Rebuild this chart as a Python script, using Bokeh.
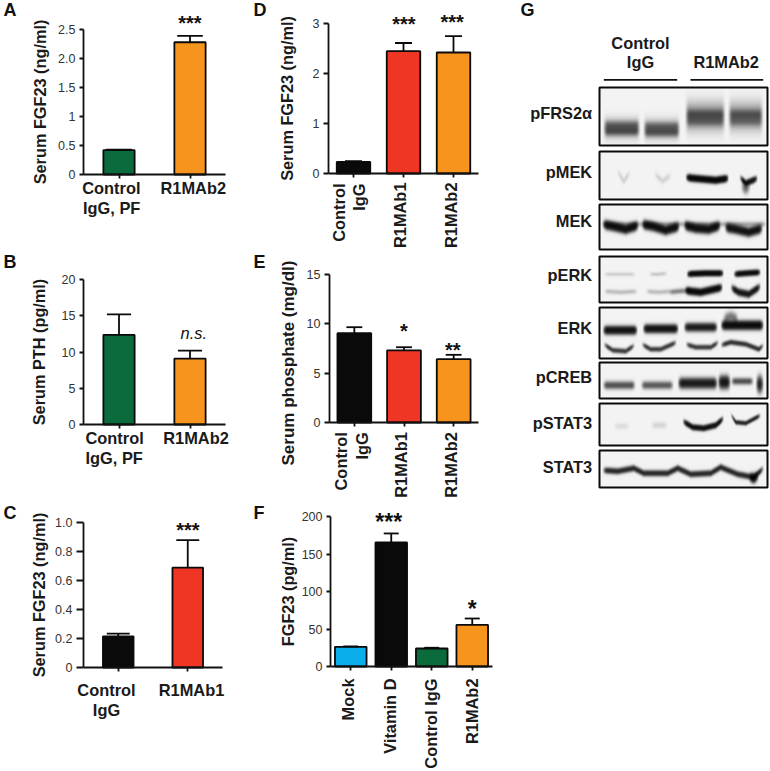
import math
import numpy as np
from bokeh.embed import file_html
from bokeh.resources import INLINE
from bokeh.plotting import figure
from bokeh.layouts import row, column
from bokeh.models import Label, Range1d, FixedTicker, LinearColorMapper

# ---- data ----
GREEN, ORANGE, RED, BLACK, BLUE = "#0b6b3c", "#f7941e", "#ef3524", "#0a0a0a", "#0aaeea"

a_mean = [0.42, 2.28]
a_upper = [0.43, 2.39]
a_colors = [GREEN, ORANGE]
a_ticks = {0: "0", 0.5: "0.5", 1: "1", 1.5: "1.5", 2: "2.0", 2.5: "2.5"}

b_mean = [12.35, 9.1]
b_upper = [15.2, 10.2]
b_colors = [GREEN, ORANGE]
b_ticks = {0: "0", 5: "5", 10: "10", 15: "15", 20: "20"}

c_mean = [0.215, 0.689]
c_upper = [0.233, 0.879]
c_colors = [BLACK, RED]
c_ticks = {0: "0", 0.2: "0.2", 0.4: "0.4", 0.6: "0.6", 0.8: "0.8", 1.0: "1.0"}

d_mean = [0.232, 2.446, 2.42]
d_upper = [0.245, 2.61, 2.746]
d_colors = [BLACK, RED, ORANGE]
d_ticks = {0: "0", 1: "1", 2: "2", 3: "3"}

e_mean = [9.05, 7.3, 6.42]
e_upper = [9.66, 7.63, 6.86]
e_colors = [BLACK, RED, ORANGE]
e_ticks = {0: "0", 5: "5", 10: "10", 15: "15"}

f_mean = [26.2, 165.4, 24.0, 55.5]
f_upper = [26.8, 177.4, 25.0, 64.0]
f_colors = [BLUE, BLACK, GREEN, ORANGE]
f_ticks = {0: "0", 50: "50", 100: "100", 150: "150", 200: "200"}

blot_names = ["pFRS2α", "pMEK", "MEK", "pERK", "ERK", "pCREB", "pSTAT3", "STAT3"]

FONT = "Liberation Sans"
LW = 1.8
RAISE = 0.44  # the page draws "alphabetic" text this many ems below the anchor
LETTER = 18


class Panel:
    """One bar panel: the frame fills its box; the axes are fixed at the plot area's origin."""
    def __init__(self, box, x0, y0, fw, fh, mean, upper, colors, ticks, bar_w, cap_w, ylabel, standoff, tick_len=4):
        bx0, by0, bx1, by1 = box
        self.n = len(mean)
        self.ymax = max(ticks)
        self.x0, self.y0, self.fw, self.fh = x0, y0, fw, fh
        p = figure(
            width=bx1 - bx0, height=by1 - by0,
            x_range=Range1d(self.dx(bx0), self.dx(bx1)), y_range=Range1d(self.dy(by1), self.dy(by0)),
            output_backend="svg", toolbar_location=None, min_border=0,
            outline_line_color=None, background_fill_color="white", border_fill_color="white",
        )
        p.grid.visible = False
        xs = list(range(self.n))
        p.vbar(x=xs, top=mean, bottom=0, width=bar_w, fill_color=colors, line_color="#0a0a0a", line_width=LW)
        p.segment(x0=xs, y0=mean, x1=xs, y1=upper, line_color="#0a0a0a", line_width=LW)
        p.segment(x0=[x - cap_w / 2 for x in xs], y0=upper, x1=[x + cap_w / 2 for x in xs], y1=upper,
                  line_color="#0a0a0a", line_width=LW)
        ax = p.yaxis[0]
        ax.fixed_location = -0.5
        ax.bounds = (0, self.ymax)
        ax.ticker = FixedTicker(ticks=list(ticks))
        ax.major_label_overrides = dict(ticks)
        ax.major_label_text_font = FONT
        ax.major_label_text_font_size = "12.5px"
        ax.major_label_text_color = "#333333"
        ax.major_label_standoff = 4
        ax.major_tick_in = 0
        ax.major_tick_out = tick_len
        ax.minor_tick_line_color = None
        ax.axis_line_width = LW
        ax.major_tick_line_width = LW
        ax.axis_line_color = "#111111"
        ax.major_tick_line_color = "#111111"
        if ylabel:
            ax.axis_label = ylabel
            ax.axis_label_text_font = FONT
            ax.axis_label_text_font_style = "bold"
            ax.axis_label_text_font_size = "16.3px"
            ax.axis_label_text_color = "#1a1a1a"
            ax.axis_label_standoff = standoff
        bx = p.xaxis[0]
        bx.fixed_location = 0
        bx.bounds = (-0.5, self.n - 0.5)
        bx.ticker = FixedTicker(ticks=xs)
        bx.major_label_overrides = {x: "" for x in xs}
        bx.major_tick_in = 0
        bx.major_tick_out = 4
        bx.minor_tick_line_color = None
        bx.axis_line_width = LW
        bx.major_tick_line_width = LW
        bx.axis_line_color = "#111111"
        bx.major_tick_line_color = "#111111"
        self.p = p

    def dx(self, rx):
        return -0.5 + (rx - self.x0) / self.fw * self.n

    def dy(self, ry):
        return (self.y0 + self.fh - ry) / self.fh * self.ymax

    def text(self, rx, ry, s, size=16.4, style="bold", align="center", angle=0, color="#1a1a1a"):
        if angle:
            rx -= RAISE * size
        else:
            ry -= RAISE * size
        self.p.add_layout(Label(x=self.dx(rx), y=self.dy(ry), text=s, text_font=FONT, text_font_size=f"{size}px",
                                text_font_style=style, text_align=align, text_baseline="alphabetic",
                                angle=angle, angle_units="rad", text_color=color))

    def stars(self, cx, cy, s, size=20):
        self.text(cx, cy + 0.56 * size, s, size=size, style="bold", color="#111111")

    def vlabel(self, rx, ry, s):
        self.text(rx, ry, s, align="right", angle=math.pi / 2)

    def letter(self, rx, ry, s):
        self.text(rx, ry, s, size=LETTER, align="left", color="#111111")


A = Panel((0, 0, 250, 250), 83, 29, 142, 145, a_mean, a_upper, a_colors, a_ticks, 0.44, 0.36, "Serum FGF23 (ng/ml)", 6)
A.letter(3, 17.5, "A")
A.stars(189.3, 20, "***")
A.text(81.7, 195, "Control", align="left")
A.text(82.5, 215, "IgG, PF", align="left")
A.text(160, 195, "R1MAb2", align="left")

B = Panel((0, 250, 250, 500), 83, 279, 142, 145, b_mean, b_upper, b_colors, b_ticks, 0.44, 0.34, "Serum PTH (pg/ml)", 11)
B.letter(3, 269, "B")
B.text(193.3, 340, "n.s.", style="italic", color="#111111")
B.text(85, 445, "Control", align="left")
B.text(85, 465, "IgG, PF", align="left")
B.text(162.7, 445, "R1MAb2", align="left")

C = Panel((0, 500, 250, 771), 83, 522, 139, 145, c_mean, c_upper, c_colors, c_ticks, 0.44, 0.33, "Serum FGF23 (ng/ml)", 4, tick_len=7)
C.letter(3, 520, "C")
C.stars(187.3, 526.7, "***")
C.text(106, 697, "Control")
C.text(106, 717, "IgG")
C.text(191, 697, "R1MAb1")

D = Panel((250, 0, 520, 250), 328, 23, 150, 150, d_mean, d_upper, d_colors, d_ticks, 0.67, 0.34, "Serum FGF23 (ng/ml)", 14, tick_len=5)
D.letter(253, 17.5, "D")
D.stars(403.3, 20.7, "***")
D.stars(451.7, 19.3, "***")
D.vlabel(346, 183, "Control")
D.vlabel(366, 183, "IgG")
D.vlabel(406.7, 182, "R1MAb1")
D.vlabel(457.3, 182, "R1MAb2")

E = Panel((250, 250, 520, 500), 329, 274, 149, 148, e_mean, e_upper, e_colors, e_ticks, 0.68, 0.32, None, 14, tick_len=5)
E.letter(253, 269, "E")
E.text(295, 362.5, "Serum phosphate (mg/dl)", angle=math.pi / 2, size=17)
E.stars(403.3, 328.3, "*")
E.stars(452.3, 347.3, "**")
E.vlabel(348, 431.7, "Control")
E.vlabel(369, 431.7, "IgG")
E.vlabel(407.3, 431.7, "R1MAb1")
E.vlabel(458, 431.7, "R1MAb2")

F = Panel((250, 500, 520, 771), 330, 516, 162, 150, f_mean, f_upper, f_colors, f_ticks, 0.78, 0.37, "FGF23 (pg/ml)", 2, tick_len=4)
F.letter(253, 520, "F")
F.stars(388.3, 518.3, "***", size=23)
F.stars(471.7, 605.3, "*", size=23)
F.vlabel(355, 678, "Mock")
F.vlabel(396.7, 678, "Vitamin D")
F.vlabel(437.7, 678, "Control IgG")
F.vlabel(479, 678, "R1MAb2")

# ---- panel G: western blots, painted from read-off band outlines ----
GX0, GW, GH = 520, 250, 771
G = figure(width=GW, height=GH, x_range=Range1d(GX0, GX0 + GW), y_range=Range1d(0, GH),
           output_backend="svg", toolbar_location=None, min_border=0,
           outline_line_color=None, background_fill_color="white", border_fill_color="white")
G.axis.visible = False
G.grid.visible = False


def Y(v, size=16.4):
    return GH - v + RAISE * size


# band: (points [(x, y)], sigma, optical density)
def flat(x0, x1, y, s, d):
    return ([(x0, y), (x0 + 5, y), (x1 - 5, y), (x1, y)], s, d)


blot_boxes = {
    "pFRS2α": (87, 145), "pMEK": (151, 199), "MEK": (204, 249), "pERK": (256, 302),
    "ERK": (307, 358), "pCREB": (362, 398), "pSTAT3": (403, 445), "STAT3": (450, 487),
}
blot_label_y = [119.3, 178.3, 227.3, 281.7, 335, 383.3, 430, 474]
bands = {
    "pFRS2α": [
        flat(602, 640, 128, 9, 0.45), flat(603, 639, 125, 4, 0.55), flat(603, 639, 131, 4, 0.75),
        flat(642, 680, 129, 9, 0.45), flat(643, 679, 126, 4, 0.5), flat(643, 679, 132, 4, 0.7),
        flat(684, 725, 116, 13, 0.6), flat(685, 724, 114, 4.5, 0.6), flat(685, 724, 121, 4.5, 0.45),
        flat(727, 763, 116, 13, 0.55), flat(728, 762, 114, 4.5, 0.55), flat(728, 762, 121, 4.5, 0.4),
    ],
    "pMEK": [
        ([(616, 170), (623, 181), (630, 171)], 3, 0.16),
        ([(653, 173), (662, 181), (671, 174)], 3, 0.14),
        ([(685, 177), (692, 178), (715, 180), (728, 178)], 2.8, 3.6),
        ([(739, 177), (745, 183), (750, 181), (757, 178)], 2.6, 2.6),
        ([(740, 186), (745, 188), (750, 186)], 5, 0.8),
    ],
    "MEK": [
        ([(602, 224), (612, 226), (625, 229), (638, 225)], 3.8, 2.8),
        ([(641, 224), (652, 226), (665, 230), (679, 226)], 3.8, 2.8),
        ([(683, 225), (695, 228), (708, 229), (720, 225)], 3.8, 2.8),
        ([(724, 227), (735, 229), (748, 232), (762, 228)], 3.8, 2.6),
        ([(600, 224), (766, 224)], 2.5, 0.35),
    ],
    "pERK": [
        ([(603, 274), (618, 274), (635, 274)], 1.8, 0.16),
        ([(648, 274), (658, 274), (667, 273)], 1.8, 0.2),
        ([(686, 274), (692, 273.5), (705, 273), (723, 273)], 2.4, 3.4),
        ([(733, 274), (745, 273), (760, 272)], 2.4, 3.0),
        ([(603, 291), (620, 292), (637, 291)], 2.2, 0.25),
        ([(645, 291), (658, 292), (672, 291)], 2.2, 0.25),
        ([(668, 292), (678, 291), (692, 290)], 2.4, 0.6),
        ([(684, 290), (690, 291), (700, 292), (722, 287)], 3, 3.2),
        ([(730, 287), (738, 292), (748, 294), (760, 286)], 3, 2.4),
    ],
    "ERK": [
        flat(602, 637, 330, 3.6, 2.6), flat(642, 678, 328.5, 3.6, 2.6),
        flat(683, 717, 327, 3.6, 2.2), flat(720, 763, 325, 3.8, 3.0),
        ([(722, 319), (730, 316), (738, 319)], 4.5, 0.7),
        ([(603, 344), (612, 350), (625, 351), (634, 345)], 2.2, 1.4),
        ([(641, 344), (650, 349), (660, 349), (676, 342)], 2.2, 1.4),
        ([(685, 344), (695, 347), (710, 347), (718, 342)], 2.2, 1.4),
        ([(720, 345), (730, 342), (745, 344), (758, 349), (763, 345)], 2.2, 1.6),
    ],
    "pCREB": [
        flat(602, 635, 385, 3.5, 1.1), flat(640, 673, 385, 3.5, 1.0),
        flat(677, 717, 383, 4.5, 2.2), flat(717, 730, 382, 5.5, 2.4),
        flat(730, 753, 381, 3, 1.1), flat(755, 763, 384, 7, 2.2),
    ],
    "pSTAT3": [
        flat(613, 629, 426, 3, 0.1), flat(650, 667, 425, 3, 0.14),
        ([(682, 421), (692, 427), (703, 428), (715, 425), (723, 418)], 2.4, 2.8),
        ([(730, 414), (735, 422), (745, 423), (760, 415)], 1.9, 1.9),
    ],
    "STAT3": [
        ([(602, 470), (617, 471), (633, 468), (643, 473), (667, 473), (677, 468), (690, 474),
          (710, 473), (720, 467), (737, 474), (753, 477), (763, 468)], 2.6, 1.8),
        ([(748, 477), (753, 478), (758, 476)], 4, 2.5),
    ],
}

BX0, BX1 = 599, 767
for name, ly in zip(blot_names, blot_label_y):
    top, bot = blot_boxes[name]
    ss = 2
    xs = BX0 + (np.arange((BX1 - BX0) * ss) + 0.5) / ss
    ys = top + (np.arange((bot - top) * ss) + 0.5) / ss
    od = np.zeros((len(ys), len(xs)))
    for pts, s, d in bands[name]:
        px = [q[0] for q in pts]
        py = [q[1] for q in pts]
        yc = np.interp(xs, px, py)
        edge = np.clip((xs - px[0]) / 4, 0, 1) * np.clip((px[-1] - xs) / 4, 0, 1)
        od += d * edge * np.exp(-((ys[:, None] - yc[None, :]) / s) ** 2)
    img = 0.95 * np.exp(-od)
    G.image(image=[img[::-1]], x=BX0, y=GH - bot, dw=BX1 - BX0, dh=bot - top,
            color_mapper=LinearColorMapper(palette="Greys256", low=0, high=1))
    G.quad(left=BX0, right=BX1, top=GH - top, bottom=GH - bot, fill_color=None, line_color="#0a0a0a", line_width=2)
    G.text(x=[591.7], y=[Y(ly)], text=[name], text_font={"value": FONT}, text_font_size={"value": "16.4px"},
           text_font_style="bold", text_align="right", text_baseline="alphabetic", text_color="#1a1a1a")

header_text = ["Control", "IgG", "R1MAb2"]
G.text(x=[640, 640, 725.7], y=[Y(49.3), Y(69), Y(69)], text=header_text, text_font={"value": FONT},
       text_font_size={"value": "16.4px"}, text_font_style="bold", text_align="center",
       text_baseline="alphabetic", text_color="#1a1a1a")
G.segment(x0=[603.3, 690], y0=[GH - 79.3] * 2, x1=[676.7, 762.7], y1=[GH - 79.3] * 2, line_color="#111111", line_width=LW)
G.text(x=[520], y=[Y(17.5, LETTER)], text=["G"], text_font={"value": FONT}, text_font_size={"value": f"{LETTER}px"},
       text_font_style="bold", text_align="left", text_baseline="alphabetic", text_color="#111111")

page = row(column(A.p, B.p, C.p, spacing=0), column(D.p, E.p, F.p, spacing=0), G, spacing=0)
open("out.html", "w").write(file_html(page, INLINE))
